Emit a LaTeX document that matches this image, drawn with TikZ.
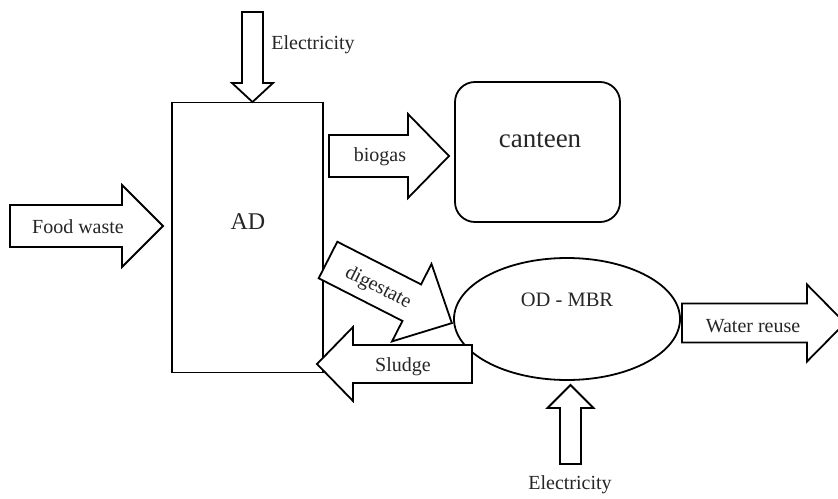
\documentclass[tikz,border=0pt]{standalone}
\usepackage{fontspec}
\setmainfont{Liberation Serif}
\usetikzlibrary{shapes.geometric}
\tikzset{
  blk/.style={draw=black, line width=1.8pt, fill=white},
  lbl/.style={font=\fontsize{20}{24}\selectfont, inner sep=0pt, text=black!85},
  pics/blockarrow/.style n args={4}{code={
    \draw[blk] (0,{-#2/2}) -- ({#1-#4},{-#2/2}) -- ({#1-#4},{-#3/2}) -- (#1,0) -- ({#1-#4},{#3/2}) -- ({#1-#4},{#2/2}) -- (0,{#2/2}) -- cycle;
  }}
}
\begin{document}
\begin{tikzpicture}[x=1pt,y=-1pt]
\useasboundingbox[fill=white] (0,0) rectangle (838,498);
% main blocks
\node[blk, rectangle, minimum width=151pt, minimum height=270pt, inner sep=0pt] (ad) at (247.5,237.5) {};
\node[blk, rectangle, rounded corners=20pt, minimum width=165pt, minimum height=140pt, inner sep=0pt] (canteen) at (537.5,152) {};
\node[blk, ellipse, minimum width=226pt, minimum height=122pt, inner sep=0pt] (odmbr) at (567,319) {};
% block arrows
\pic[rotate=-90] (elecA) at (252.5,12) {blockarrow={90}{21}{41}{19}};
\pic (food) at (10,226) {blockarrow={153}{42}{82}{41}};
\pic (bio) at (329,156) {blockarrow={120}{42}{84}{41}};
\pic[rotate=-27] (dig) at (328,260) {blockarrow={139}{41}{87}{45}};
\pic[rotate=180] (sludge) at (472,364) {blockarrow={155}{38}{74}{36}};
\pic (water) at (682,323) {blockarrow={163}{39}{77}{38}};
\pic[rotate=90] (elecB) at (570.5,464) {blockarrow={79}{21}{46}{23}};
% texts
\node[lbl] (tElecA) at (313,45) {Electricity};
\node[lbl] (tFood) at (78,227) {Food waste};
\node[lbl] (tBio) at (380,157) {biogas};
\node[lbl, rotate=-27] (tDig) at (378,288) {digestate};
\node[lbl] (tSludge) at (403,367) {Sludge};
\node[lbl] (tWater) at (753,326) {Water reuse};
\node[lbl] (tElecB) at (570,485) {Electricity};
\node[lbl, font=\fontsize{24}{28}\selectfont] (tAD) at (248,222) {AD};
\node[lbl, font=\fontsize{27}{32}\selectfont] (tCanteen) at (540,140) {canteen};
\node[lbl, font=\fontsize{20.5}{24}\selectfont] (tOD) at (567,300) {OD - MBR};
\end{tikzpicture}
\end{document}
